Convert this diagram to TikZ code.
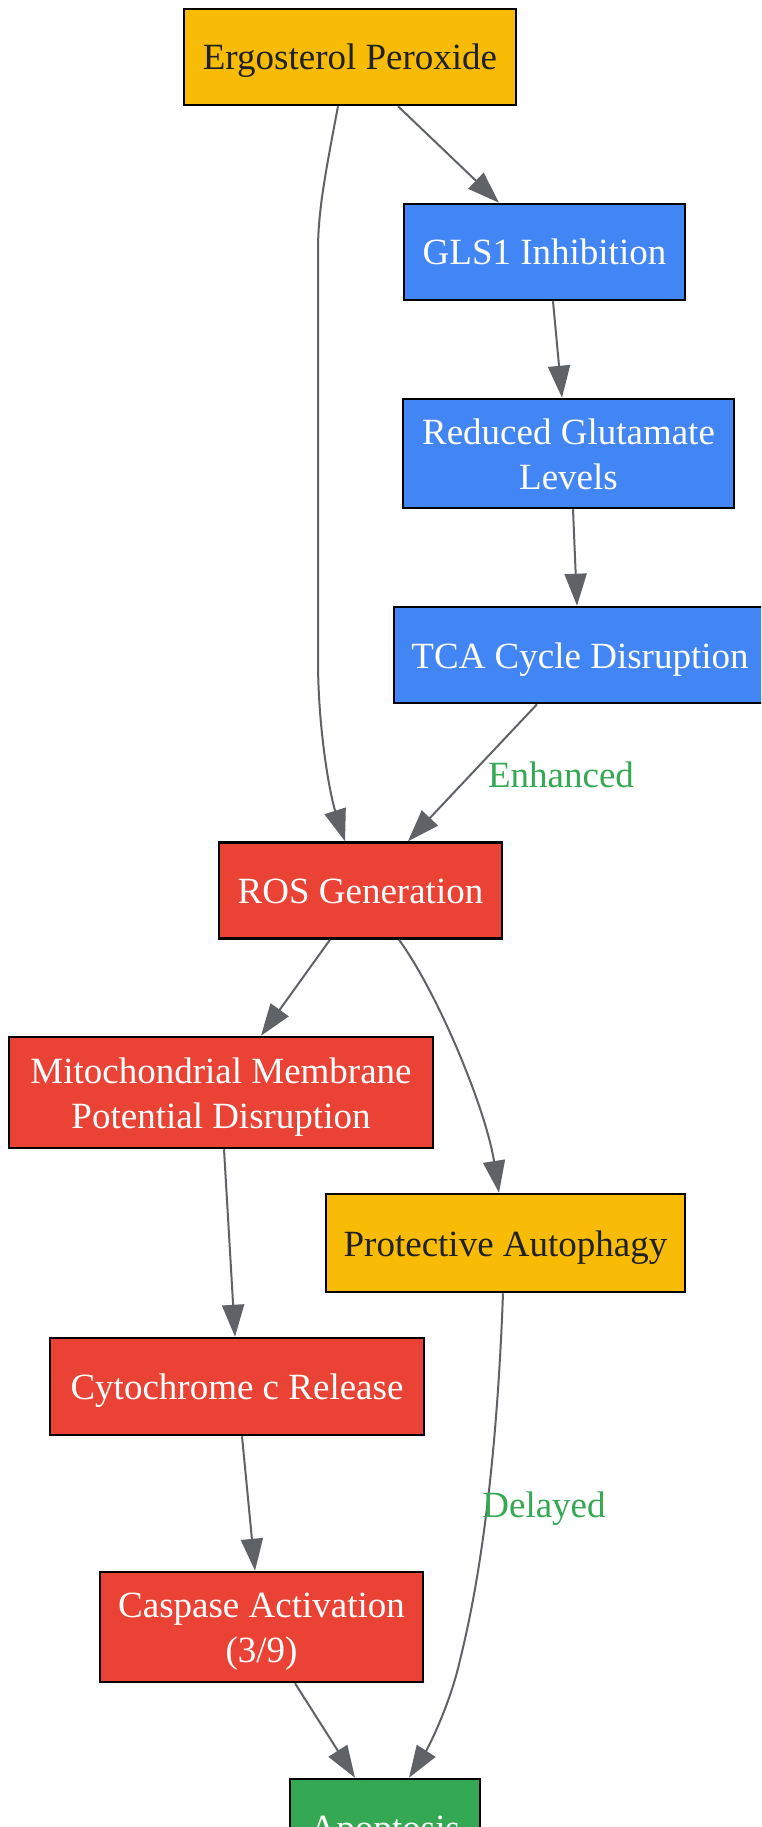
\documentclass[tikz,border=0pt]{standalone}
\usepackage{fontspec}
\setmainfont{Liberation Serif}
\usetikzlibrary{arrows.meta}
\definecolor{cyellow}{HTML}{F9BC06}
\definecolor{cblue}{HTML}{4285F4}
\definecolor{cred}{HTML}{EA4335}
\definecolor{cgreen}{HTML}{34A853}
\definecolor{cedge}{HTML}{5F6368}
\definecolor{cdark}{HTML}{202124}
\newcommand\gs{\rule[-9pt]{0pt}{44pt}}
\tikzset{
  box/.style={draw=black, line width=2.5pt, rectangle, inner sep=0pt, align=center,
    font=\fontsize{37}{43}\selectfont},
  ybox/.style={box, fill=cyellow, text=cdark},
  bbox/.style={box, fill=cblue, text=white},
  rbox/.style={box, fill=cred, text=white},
  gbox/.style={box, fill=cgreen, text=white},
  edge/.style={draw=cedge, line width=2pt, -{Triangle[length=32pt,width=22pt,fill=cedge]}},
  elabel/.style={text=cgreen, font=\fontsize{37}{43}\selectfont, inner sep=0pt}
}
\begin{document}
\begin{tikzpicture}[x=1pt,y=-1pt]
\useasboundingbox (0,0) rectangle (761,1827);
\clip (0,0) rectangle (761,1827);
\fill[white] (0,0) rectangle (761,1827);

\node[ybox, minimum width=332pt, minimum height=96pt] (ergo) at (350,57) {\gs Ergosterol Peroxide};
\node[bbox, minimum width=281pt, minimum height=96pt] (gls) at (544.5,252) {\gs GLS1 Inhibition};
\node[bbox, minimum width=331pt, minimum height=109pt] (glu) at (568.5,453.5) {\gs Reduced Glutamate\\\gs Levels};
\node[bbox, minimum width=372pt, minimum height=96pt] (tca) at (580,655) {\gs TCA Cycle Disruption};
\node[rbox, minimum width=283pt, minimum height=96pt] (ros) at (360.5,890.5) {\gs ROS Generation};
\node[rbox, minimum width=424pt, minimum height=111pt] (mito) at (221,1092.5) {\gs Mitochondrial Membrane\\\gs Potential Disruption};
\node[ybox, minimum width=359pt, minimum height=98pt] (auto) at (505.5,1243) {\gs Protective Autophagy};
\node[rbox, minimum width=374pt, minimum height=97pt] (cyto) at (237,1386.5) {\gs Cytochrome c Release};
\node[rbox, minimum width=323pt, minimum height=110pt] (casp) at (261.5,1627) {\gs Caspase Activation\\\gs (3/9)};
\node[gbox, minimum width=190pt, minimum height=96pt] (apop) at (385,1827) {\gs Apoptosis};

\draw[edge] ([xshift=48pt]ergo.south) -- ([xshift=-45.5pt]gls.north);
\draw[edge] ([xshift=-12pt]ergo.south) .. controls (326,170) and (318,210) .. (318,250)
  -- (318,660) .. controls (318,730) and (330,795) .. ([xshift=-15.5pt]ros.north);
\draw[edge] ([xshift=8.5pt]gls.south) -- ([xshift=-6.5pt]glu.north);
\draw[edge] ([xshift=4.5pt]glu.south) -- ([xshift=-3pt]tca.north);
\draw[edge] ([xshift=-43pt]tca.south) -- ([xshift=47.5pt]ros.north);
\node[elabel] (enh) at (561,774) {\gs Enhanced};
\draw[edge] ([xshift=-30.5pt]ros.south) -- ([xshift=40pt]mito.north);
\draw[edge] ([xshift=38.5pt]ros.south) .. controls (439,995) and (486,1110) .. ([xshift=-6.5pt]auto.north);
\draw[edge] ([xshift=3pt]mito.south) -- ([xshift=-2pt]cyto.north);
\draw[edge] ([xshift=5pt]cyto.south) -- ([xshift=-6.5pt]casp.north);
\draw[edge] ([xshift=33.5pt]casp.south) -- ([xshift=-30pt]apop.north);
\draw[edge] ([xshift=-2.5pt]auto.south) .. controls (498,1430) and (485,1560) .. (460,1660)
  .. controls (450,1705) and (428,1748) .. ([xshift=24pt]apop.north);
\node[elabel] (del) at (544,1504) {\gs Delayed};
\end{tikzpicture}
\end{document}
